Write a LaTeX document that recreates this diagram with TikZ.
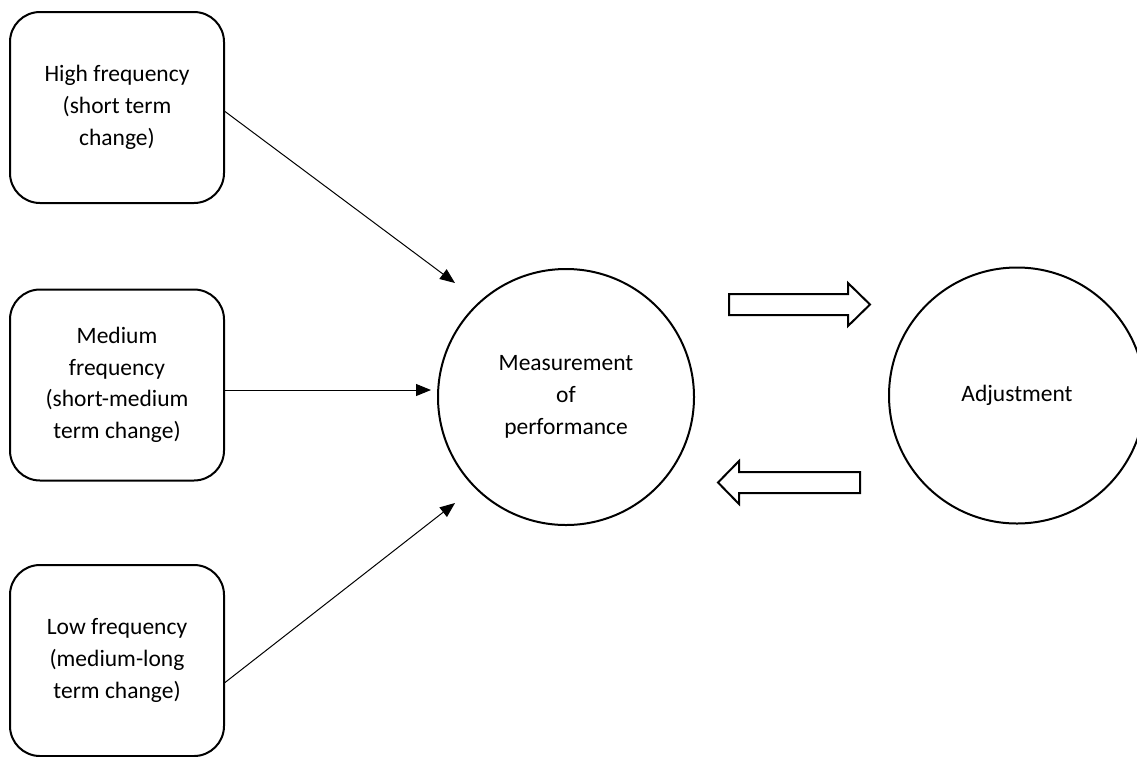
\documentclass[tikz,border=0pt]{standalone}
\usepackage{fontspec}
\setmainfont{Carlito}
\usetikzlibrary{arrows.meta}

\begin{document}
\begin{tikzpicture}[x=1pt,y=-1pt]
		\tikzstyle{FreqBox}=[draw,line width=2pt,rounded corners=30pt,minimum width=214pt,minimum height=191pt,align=center,font=\fontsize{23.5}{31.7}\selectfont]
		\tikzstyle{Round}=[draw,circle,line width=2pt,minimum size=256pt,align=center,font=\fontsize{23.5}{31.7}\selectfont]
		\tikzstyle{Thin}=[line width=1pt,-{Triangle[length=15pt,width=12pt]}]
		\tikzstyle{Fat}=[draw,line width=2pt,fill=white,line join=miter]
		\useasboundingbox (0,0) rectangle (1137,756);
		% the three frequencies
		\node[FreqBox] (H) at (117,107.5) {High frequency\\(short term\\change)};
		\node[FreqBox] (M) at (117,385) {Medium\\frequency\\(short-medium\\term change)};
		\node[FreqBox] (L) at (117,660.5) {Low frequency\\(medium-long\\term change)};
		\node[Round] (P) at (566,397) {Measurement\\of\\performance};
		\node[Round] (A) at (1017,395.5) {Adjustment};
		\coordinate (tH) at (455,283);
		\coordinate (tM) at (431,390);
		\coordinate (tL) at (455,503);
		\draw[Thin] ([yshift=-4pt]H.east) -- (tH);
		\draw[Thin] ([yshift=-5pt]M.east) -- (tM);
		\draw[Thin] ([yshift=-22pt]L.east) -- (tL);
		% block arrows between the circles
		\coordinate (goR) at (729,304.5);
		\coordinate (goL) at (860,482.5);
		\draw[Fat] (goR) ++(0,-10.5) -- ++(119,0) -- ++(0,-11) -- ++(22,21.5) -- ++(-22,21.5) -- ++(0,-11) -- ++(-119,0) -- cycle;
		\draw[Fat] (goL) ++(0,-10.5) -- ++(-121,0) -- ++(0,-11) -- ++(-21,21.5) -- ++(21,21.5) -- ++(0,-11) -- ++(121,0) -- cycle;
	\end{tikzpicture}
\end{document}
